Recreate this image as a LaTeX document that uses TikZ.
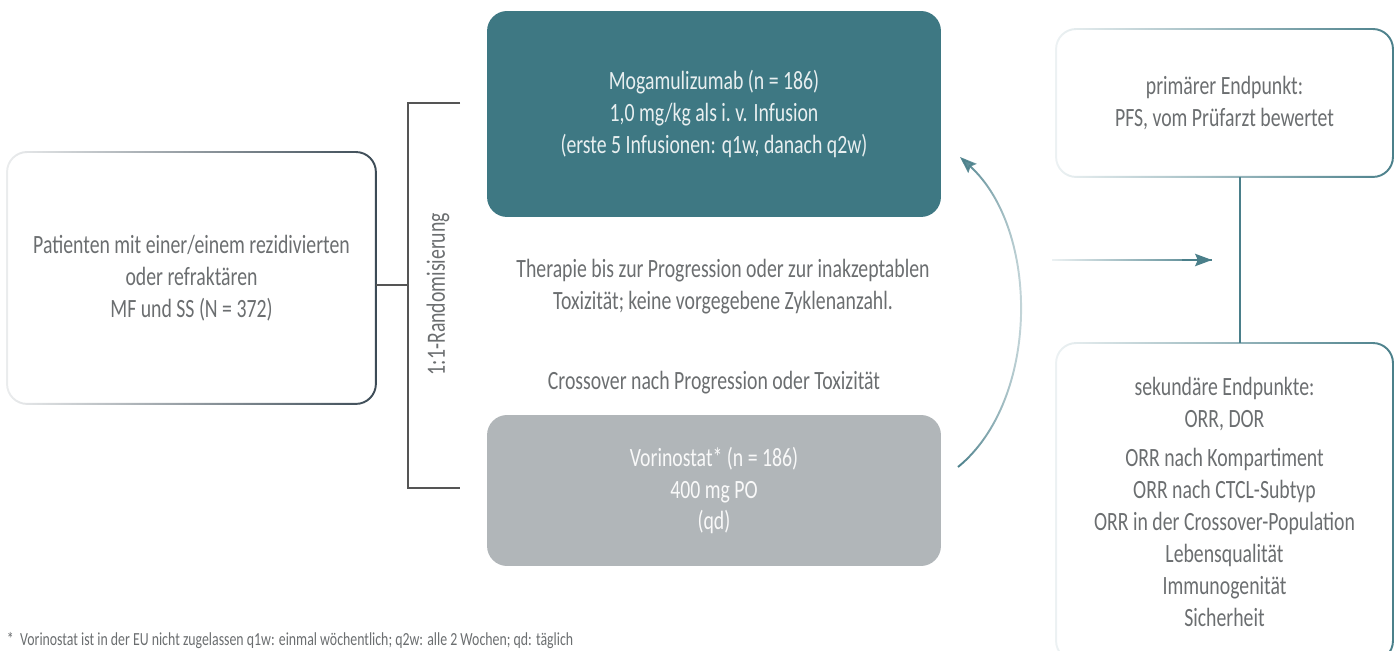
\documentclass[tikz,border=0pt]{standalone}
\usepackage{fontspec}
\setmainfont{Carlito}[FakeStretch=0.75]
\usetikzlibrary{arrows.meta,fadings}
\definecolor{tealbox}{HTML}{3E7883}
\definecolor{tealline}{HTML}{4A7F8A}
\definecolor{slate}{HTML}{3B4A55}
\definecolor{graybox}{HTML}{B1B6B9}
\definecolor{txtgray}{HTML}{6B6E70}
\definecolor{brack}{HTML}{555555}
\tikzfading[name=fade left, left color=transparent!90, right color=transparent!0]
\tikzfading[name=fade right, left color=transparent!0, right color=transparent!88]
\begin{document}
\begin{tikzpicture}
          [x=0.02cm,y=-0.02cm,line width=1.1pt,
           every node/.style={align=center, text=txtgray, inner sep=0pt, font=\fontsize{15}{18.2}\selectfont},
           box/.style={rounded corners=0.4cm},
           frame/.style={draw, rounded corners=0.4cm, path fading=fade left},
           tip/.style={-{Stealth[length=9.6pt,width=7pt,inset=1.5pt]}}]
        \useasboundingbox (0,0) rectangle (1397,651);
        \node[box, minimum width=7.34cm, minimum height=5cm] (pat) at (191.5,278) {Patienten mit einer/einem rezidivierten\\oder refraktären\\MF und SS (N = 372)};
        \node[box, fill=tealbox, text=white!88!tealbox, minimum width=9.08cm, minimum height=4.12cm] (mog) at (714,114) {Mogamulizumab (n = 186)\\1,0 mg/kg als i.\,v. Infusion\\(erste 5 Infusionen: q1w, danach q2w)};
        \node[box, fill=graybox, text=white!92!graybox, minimum width=9.08cm, minimum height=3.02cm] (vor) at (714,490.5) {Vorinostat* (n = 186)\\400 mg PO\\(qd)};
        \node[box, minimum width=6.7cm, minimum height=2.92cm] (prim) at (1224.5,103) {primärer Endpunkt:\\PFS, vom Prüfarzt bewertet};
        \node[box, minimum width=6.7cm, minimum height=6.32cm] (sek) at (1224.5,502) {sekundäre Endpunkte:\\ORR, DOR\\[4pt]ORR nach Kompartiment\\ORR nach CTCL-Subtyp\\ORR in der Crossover-Population\\Lebensqualität\\Immunogenität\\Sicherheit};
        \node[rotate=90] (rand) at (438,294) {1:1-Randomisierung};
        \node (ther) at (723,287) {Therapie bis zur Progression oder zur inakzeptablen\\Toxizität; keine vorgegebene Zyklenanzahl.};
        \node (cross) at (714,383) {Crossover nach Progression oder Toxizität};
        \node[anchor=base west, font=\fontsize{10.5}{12}\selectfont] (foot) at (6,646) {*\ \ Vorinostat ist in der EU nicht zugelassen q1w: einmal wöchentlich; q2w: alle 2 Wochen; qd: täglich};

        \coordinate (bx) at (408,285);
        \coordinate (bt) at (460,103);
        \coordinate (bb) at (460,488);
        \coordinate (a1) at (958,467);
        \coordinate (a2) at (960,157);
        \coordinate (h1) at (1052,260);
        \coordinate (h2) at (1212,260);

        % frames
        \draw[frame, slate] (pat.south west) rectangle (pat.north east);
        \draw[frame, tealline] (prim.south west) rectangle (prim.north east);
        \draw[frame, tealline] (sek.south west) rectangle (sek.north east);

        % randomisation bracket
        \draw[brack] (pat.east |- bx) -- (bx);
        \draw[brack] (bt) -| (bx) |- (bb);

        % crossover and endpoints
        \draw[tip, tealline, path fading=fade right] (a1) .. controls (1040,400) and (1040,230) .. (a2);
        \draw[tealline, path fading=fade left] (h1) -- (h2);
        \draw[tip, tealline] ([xshift=-0.6cm]h2) -- (h2);
        \draw[tealline] ([xshift=0.31cm]prim.south) -- ([xshift=0.31cm]sek.north);
      \end{tikzpicture}
\end{document}
